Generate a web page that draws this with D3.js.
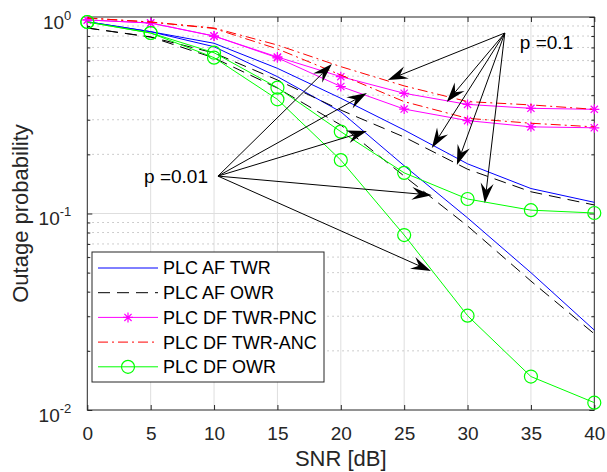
<!DOCTYPE html>
<html>
<head>
<meta charset="utf-8">
<script src="https://cdn.jsdelivr.net/npm/d3@7"></script>
<style>
  body { margin: 0; background: #fff; }
  svg { display: block; font-family: 'Liberation Sans', Arial, Helvetica, sans-serif; }
</style>
</head>
<body>
<div id="chart"></div>
<script>
const snr = [0, 5, 10, 15, 20, 25, 30, 35, 40];

// curves for p = 0.1
const afTwrP1 = [0.946, 0.842, 0.735, 0.548, 0.386, 0.266, 0.179, 0.134, 0.114];
const afOwrP1 = [0.879, 0.791, 0.656, 0.478, 0.336, 0.245, 0.168, 0.129, 0.1105];
const pncP1 = [0.966, 0.932, 0.80, 0.626, 0.497, 0.409, 0.359, 0.343, 0.339];
const ancP1 = [0.988, 0.943, 0.879, 0.72, 0.559, 0.446, 0.371, 0.357, 0.339];
const dfOwrP1 = [0.943, 0.829, 0.658, 0.437, 0.261, 0.161, 0.1185, 0.104, 0.1006];

// curves for p = 0.01
const afTwrP01 = [0.946, 0.842, 0.706, 0.497, 0.329, 0.175, 0.095, 0.050, 0.0255];
const afOwrP01 = [0.879, 0.791, 0.619, 0.435, 0.282, 0.155, 0.0864, 0.0453, 0.0244];
const pncP01 = [0.966, 0.932, 0.80, 0.62, 0.443, 0.340, 0.297, 0.276, 0.273];
const ancP01 = [0.988, 0.943, 0.874, 0.688, 0.507, 0.371, 0.305, 0.288, 0.276];
const dfOwrP01 = [0.943, 0.829, 0.621, 0.381, 0.187, 0.0777, 0.0302, 0.0148, 0.0109];

const legendLabels = ['PLC AF TWR', 'PLC AF OWR', 'PLC DF TWR-PNC', 'PLC DF TWR-ANC', 'PLC DF OWR'];

const xTicks = [0, 5, 10, 15, 20, 25, 30, 35, 40];
const yTicks = [1, 0.1, 0.01];
const yTickExp = ['0', '-1', '-2'];
const yMinor = [0.02, 0.03, 0.04, 0.05, 0.06, 0.07, 0.08, 0.09,
                0.2, 0.3, 0.4, 0.5, 0.6, 0.7, 0.8, 0.9];

// annotation arrows, in data units [snr, probability]
const noteP01Label = 'p =0.01';
const noteP01From = [10.31, 0.155];
const noteP01To = [[19.3, 0.576], [22.06, 0.41], [22.06, 0.263], [27.18, 0.124], [27.11, 0.051]];
const noteP1Label = 'p =0.1';
const noteP1From = [32.94, 0.829];
const noteP1To = [[23.71, 0.478], [28.36, 0.369], [27.18, 0.2155], [29.16, 0.1765], [31.36, 0.113]];

const series = [
  {color: '#0000ff', dash: null, marker: null, curves: [afTwrP1, afTwrP01]},
  {color: '#000000', dash: '12,7', marker: null, curves: [afOwrP1, afOwrP01]},
  {color: '#ff00ff', dash: null, marker: 'star', curves: [pncP1, pncP01]},
  {color: '#ff0000', dash: '10,4,2,4', marker: null, curves: [ancP1, ancP01]},
  {color: '#00ff00', dash: null, marker: 'circle', curves: [dfOwrP1, dfOwrP01]}
];

const plotL = 87.3, plotR = 594.3, plotT = 17, plotB = 410;
const axisColor = '#262626';

let svg = d3.select('#chart')
            .append('svg')
            .attr('width', 607)
            .attr('height', 472);

let x = d3.scaleLinear().domain([0, 40]).range([plotL, plotR]);
let y = d3.scaleLog().domain([0.01, 1]).range([plotB, plotT]);

// grid
let grid = svg.append('g');
grid.selectAll('.gx')
    .data(xTicks.slice(1, -1))
    .enter().append('line')
      .attr('x1', d => x(d)).attr('x2', d => x(d))
      .attr('y1', plotT).attr('y2', plotB)
      .attr('stroke', '#dedede')
      .attr('stroke-width', 1);
grid.selectAll('.gy')
    .data(yMinor)
    .enter().append('line')
      .attr('x1', plotL).attr('x2', plotR)
      .attr('y1', d => y(d)).attr('y2', d => y(d))
      .attr('stroke', '#bdbdbd')
      .attr('stroke-width', 1)
      .attr('stroke-dasharray', '1.5,3.5');
grid.append('line')
    .attr('x1', plotL).attr('x2', plotR)
    .attr('y1', y(0.1)).attr('y2', y(0.1))
    .attr('stroke', '#dedede')
    .attr('stroke-width', 1);

// axes
let gBottom = svg.append('g')
    .attr('transform', 'translate(0,' + plotB + ')')
    .style('color', axisColor)
    .call(d3.axisBottom(x).tickValues(xTicks).tickSizeInner(-5).tickSizeOuter(0));
gBottom.selectAll('text')
    .attr('y', 30).attr('dy', null)
    .attr('fill', '#262626')
    .style('font-size', '19px')
    .style('font-family', 'inherit');

svg.append('g')
    .attr('transform', 'translate(0,' + plotT + ')')
    .style('color', axisColor)
    .call(d3.axisTop(x).tickValues(xTicks).tickSizeInner(-5).tickSizeOuter(0).tickFormat(''));

let gLeft = svg.append('g')
    .attr('transform', 'translate(' + plotL + ',0)')
    .style('color', axisColor)
    .call(d3.axisLeft(y).tickValues(yTicks).tickSizeInner(-5).tickSizeOuter(0).tickFormat(''));
gLeft.selectAll('.tick text')
    .attr('x', -16).attr('dy', null).attr('y', 11)
    .attr('fill', '#262626')
    .style('font-family', 'inherit')
    .each(function(d, i) {
      let t = d3.select(this);
      t.append('tspan').style('font-size', '19px').text('10');
      t.append('tspan').style('font-size', '13px').attr('dy', -9).text(yTickExp[i]);
    });

svg.append('g')
    .attr('transform', 'translate(' + plotL + ',0)')
    .style('color', axisColor)
    .call(d3.axisLeft(y).tickValues(yMinor).tickSizeInner(-3).tickSizeOuter(0).tickFormat(''));

svg.append('g')
    .attr('transform', 'translate(' + plotR + ',0)')
    .style('color', axisColor)
    .call(d3.axisRight(y).tickValues(yTicks).tickSizeInner(-5).tickSizeOuter(0).tickFormat(''));
svg.append('g')
    .attr('transform', 'translate(' + plotR + ',0)')
    .style('color', axisColor)
    .call(d3.axisRight(y).tickValues(yMinor).tickSizeInner(-3).tickSizeOuter(0).tickFormat(''));

svg.selectAll('.domain').remove();

svg.append('rect')
    .attr('x', plotL).attr('y', plotT)
    .attr('width', plotR - plotL).attr('height', plotB - plotT)
    .attr('fill', 'none')
    .attr('stroke', axisColor)
    .attr('stroke-width', 1);

// axis labels
svg.append('text')
    .attr('x', (plotL + plotR) / 2)
    .attr('y', 466)
    .attr('text-anchor', 'middle')
    .attr('fill', '#262626')
    .style('font-size', '22px')
    .text('SNR [dB]');

svg.append('text')
    .attr('transform', 'translate(28,' + (plotT + plotB) / 2 + ') rotate(-90)')
    .attr('text-anchor', 'middle')
    .attr('fill', '#262626')
    .style('font-size', '22px')
    .text('Outage probability');

// curves
let line = d3.line()
              .x((d, i) => x(snr[i]))
              .y(d => y(d));

const starPath = 'M-5,0H5M0,-5V5M-3.6,-3.6L3.6,3.6M-3.6,3.6L3.6,-3.6';

function drawMarker(g, kind, color, px, py) {
  if (kind === 'star') {
    g.append('path')
      .attr('d', starPath)
      .attr('transform', 'translate(' + px + ',' + py + ')')
      .attr('stroke', color)
      .attr('stroke-width', 1.2)
      .attr('fill', 'none');
  } else if (kind === 'circle') {
    g.append('circle')
      .attr('cx', px).attr('cy', py).attr('r', 6.5)
      .attr('stroke', color)
      .attr('stroke-width', 1.2)
      .attr('fill', 'none');
  }
}

let plot = svg.append('g');
series.forEach(s => {
  s.curves.forEach(c => {
    plot.append('path')
        .datum(c)
        .attr('fill', 'none')
        .attr('stroke', s.color)
        .attr('stroke-width', 1)
        .attr('stroke-dasharray', s.dash)
        .attr('d', line);
    if (s.marker) {
      c.forEach((v, i) => drawMarker(plot, s.marker, s.color, x(snr[i]), y(v)));
    }
  });
});

// annotations
function drawArrow(from, to) {
  let fx = x(from[0]), fy = y(from[1]);
  let tx = x(to[0]), ty = y(to[1]);
  let ang = Math.atan2(ty - fy, tx - fx);
  let headLen = 20, headW = 13, notch = 13;
  svg.append('line')
      .attr('x1', fx).attr('y1', fy)
      .attr('x2', tx - notch * Math.cos(ang))
      .attr('y2', ty - notch * Math.sin(ang))
      .attr('stroke', '#000')
      .attr('stroke-width', 1);
  svg.append('path')
      .attr('d', 'M0,0L' + (-headLen) + ',' + (-headW / 2) + 'L' + (-notch) + ',0L' + (-headLen) + ',' + (headW / 2) + 'Z')
      .attr('transform', 'translate(' + tx + ',' + ty + ') rotate(' + (ang * 180 / Math.PI) + ')')
      .attr('fill', '#000');
}

noteP01To.forEach(t => drawArrow(noteP01From, t));
noteP1To.forEach(t => drawArrow(noteP1From, t));

svg.append('text')
    .attr('x', x(noteP01From[0]) - 10)
    .attr('y', y(noteP01From[1]) + 7)
    .attr('text-anchor', 'end')
    .style('font-size', '19px')
    .text(noteP01Label);

svg.append('text')
    .attr('x', x(noteP1From[0]) + 15)
    .attr('y', y(noteP1From[1]) + 16)
    .style('font-size', '19px')
    .text(noteP1Label);

// legend
let legend = svg.append('g')
    .attr('transform', 'translate(92,252)');
legend.append('rect')
    .attr('width', 232).attr('height', 130)
    .attr('fill', '#fff')
    .attr('stroke', axisColor)
    .attr('stroke-width', 1);
series.forEach((s, i) => {
  let ry = 16 + i * 24.7;
  legend.append('line')
      .attr('x1', 6).attr('x2', 66)
      .attr('y1', ry).attr('y2', ry)
      .attr('stroke', s.color)
      .attr('stroke-width', 1)
      .attr('stroke-dasharray', s.dash);
  if (s.marker) drawMarker(legend, s.marker, s.color, 36, ry);
  legend.append('text')
      .attr('x', 71)
      .attr('y', ry)
      .attr('dy', '0.36em')
      .style('font-size', '18px')
      .text(legendLabels[i]);
});
</script>
</body>
</html>
